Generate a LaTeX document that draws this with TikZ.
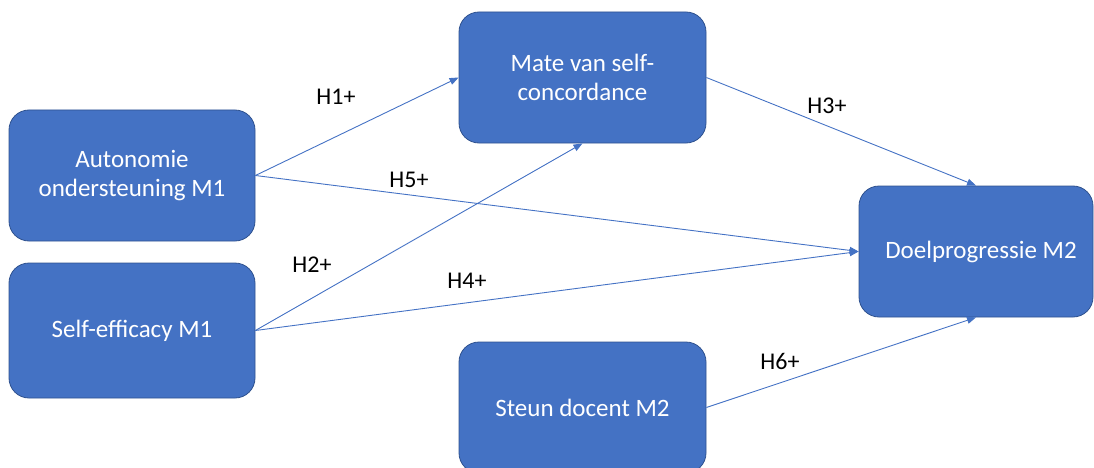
\documentclass[tikz,border=0pt]{standalone}
\usepackage{fontspec}
\setmainfont{Carlito}
\usetikzlibrary{arrows.meta}
\definecolor{boxfill}{HTML}{4472C4}
\definecolor{boxline}{HTML}{2F528F}
\definecolor{arrowc}{HTML}{4472C4}
\begin{document}
\begin{tikzpicture}[x=1pt,y=-1pt,
  box/.style={draw=boxline, line width=0.8pt, fill=boxfill, rounded corners=20pt,
    text=white, align=center, inner sep=0pt,
    font=\fontsize{25}{29}\selectfont},
  conn/.style={draw=arrowc, line width=0.9pt, -{Triangle[length=9pt,width=7pt]}},
  lbl/.style={text=black, font=\fontsize{24}{26}\selectfont, inner sep=0pt}]
\useasboundingbox (0,0) rectangle (1094,468);
\clip (0,0) rectangle (1094,468);
\node[box, minimum width=246pt, minimum height=131pt] (A) at (132,175.5) {Autonomie\\ondersteuning M1};
\node[box, minimum width=246pt, minimum height=135pt] (S) at (132,330.5) {Self-efficacy M1};
\node[box, minimum width=247pt, minimum height=131pt] (M) at (582.5,77.5) {Mate van self-\\concordance};
\node[box, minimum width=234pt, minimum height=131pt] (D) at (976,251.5) {\hspace{10pt}Doelprogressie M2};
\node[box, minimum width=247pt, minimum height=131pt] (St) at (582.5,407.5) {Steun docent M2};
\draw[conn] (A.east) -- (M.west);
\draw[conn] (A.east) -- (D.west);
\draw[conn] (S.east) -- (M.south);
\draw[conn] (S.east) -- (D.west);
\draw[conn] (M.east) -- (D.north);
\draw[conn] (St.east) -- (D.south);
\node[lbl] (h1) at (336,97) {H1+};
\node[lbl] (h5) at (409,180) {H5+};
\node[lbl] (h2) at (312,265) {H2+};
\node[lbl] (h4) at (467,281) {H4+};
\node[lbl] (h3) at (827,106) {H3+};
\node[lbl] (h6) at (780,361) {H6+};
\end{tikzpicture}
\end{document}
